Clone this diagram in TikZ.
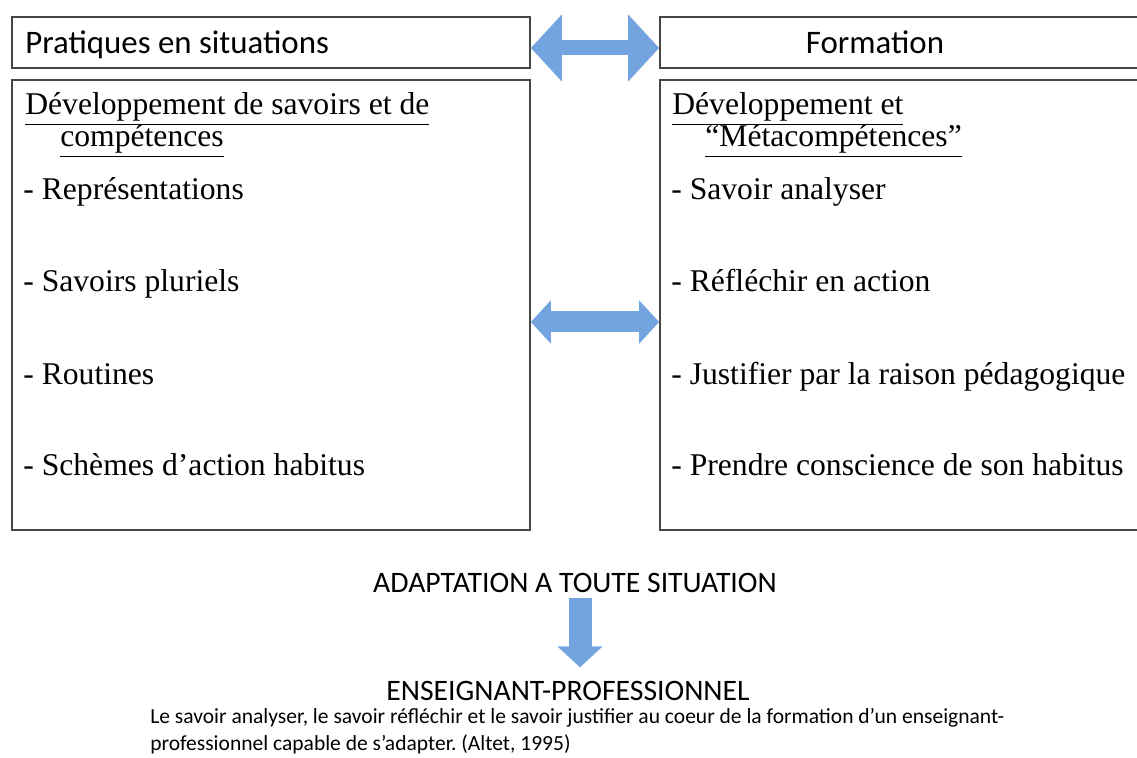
\documentclass[tikz,border=0pt]{standalone}
\usepackage{fontspec}
\setmainfont{Liberation Serif}
\newfontfamily\calib{Carlito}
\usepackage{tikz}
\usetikzlibrary{positioning,calc,arrows.meta}
\frenchspacing
\definecolor{arrowblue}{RGB}{116,164,224}
\definecolor{boxline}{RGB}{70,70,70}
\tikzset{
  box/.style={draw=boxline, line width=0.9pt, rectangle, inner sep=0pt},
  head/.style={font=\calib\fontsize{18.7}{22}\selectfont, inner sep=0pt},
  item/.style={font=\fontsize{18}{22}\selectfont, inner sep=0pt, anchor=base west},
  caps/.style={font=\calib\fontsize{16.9}{20}\selectfont, inner sep=0pt, anchor=base},
  twoway/.style={arrowblue, line width=#1},
  downway/.style={arrowblue, line width=0.46cm, -{Triangle[width=0.88cm, length=0.42cm]}},
}

\begin{document}
\begin{tikzpicture}
\useasboundingbox (0,0) rectangle (22.74,-15.16);
\clip (0,0) rectangle (22.74,-15.16);
% the four boxes
\node[box, minimum width=10.36cm, minimum height=1.02cm] (ptop) at (5.42,-0.85) {};
\node[box, minimum width=11.4cm, minimum height=1.02cm] (ftop) at (18.9,-0.85) {};
\node[box, minimum width=10.36cm, minimum height=9cm] (pbox) at (5.42,-6.1) {};
\node[box, minimum width=11.4cm, minimum height=9cm] (fbox) at (18.9,-6.1) {};
\node[head, anchor=base west] (ptitle) at (0.5,-1.08) {Pratiques en situations};
\node[head, anchor=base] (ftitle) at (17.5,-1.08) {Formation};
% left column
\node[item] (p1) at (0.5,-2.3) {\underline{Développement de savoirs et de}};
\node[item] (p2) at (1.2,-2.94) {\underline{compétences}};
\node[item] (p3) at (0.46,-4.0) {- Représentations};
\node[item] (p4) at (0.46,-5.84) {- Savoirs pluriels};
\node[item] (p5) at (0.46,-7.7) {- Routines};
\node[item] (p6) at (0.46,-9.5) {- Schèmes d’action habitus};
% right column
\node[item] (f1) at (13.44,-2.3) {\underline{Développement et}};
\node[item] (f2) at (14.1,-2.94) {\underline{“Métacompétences”}};
\node[item] (f3) at (13.42,-4.0) {- Savoir analyser};
\node[item] (f4) at (13.42,-5.84) {- Réfléchir en action};
\node[item] (f5) at (13.42,-7.7) {- Justifier par la raison pédagogique};
\node[item] (f6) at (13.42,-9.5) {- Prendre conscience de son habitus};
% double arrows
\draw[twoway=0.3cm, {Triangle[width=1.3cm, length=0.62cm]}-{Triangle[width=1.3cm, length=0.62cm]}]
  ([yshift=-0.11cm]ptop.east) -- ([yshift=-0.11cm]ftop.west);
\draw[twoway=0.42cm, {Triangle[width=0.84cm, length=0.4cm]}-{Triangle[width=0.84cm, length=0.4cm]}]
  ([yshift=-0.34cm]pbox.east) -- ([yshift=-0.34cm]fbox.west);
% bottom
\node[caps] (adapt) at (11.5,-11.84) {ADAPTATION A TOUTE SITUATION};
\node[caps] (ens) at (11.36,-14.0) {ENSEIGNANT-PROFESSIONNEL};
\draw[downway] ([xshift=0.1cm,yshift=-0.1cm]adapt.south) -- ([xshift=0.24cm,yshift=0.26cm]ens.north);
\node[font=\calib\fontsize{12.25}{14.8}\selectfont, inner sep=0pt, anchor=base west, align=left] (note) at (3.0,-15.0)
  {Le savoir analyser, le savoir réfléchir et le savoir justifier au coeur de la formation d’un enseignant-\\
   professionnel capable de s’adapter. (Altet, 1995)};
\end{tikzpicture}
\end{document}
